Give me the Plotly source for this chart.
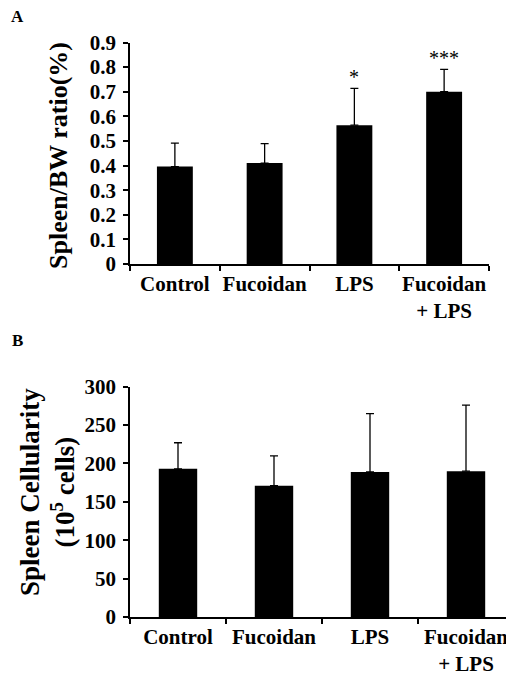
import plotly.graph_objects as go

categories = ["Control", "Fucoidan", "LPS", "Fucoidan<br>+ LPS"]
ratio_values = [0.396, 0.41, 0.564, 0.70]
ratio_errors = [0.095, 0.079, 0.150, 0.091]
ratio_marks = ["", "", "*", "***"]
cell_values = [193, 171, 189, 190]
cell_errors = [34, 39, 76, 86]
ratio_ticks = [0, 0.1, 0.2, 0.3, 0.4, 0.5, 0.6, 0.7, 0.8, 0.9]
cell_ticks = [0, 50, 100, 150, 200, 250, 300]

W, H = 514, 673
OFF = 8  # page body margin offset
FONT = "Liberation Serif"

fig = go.Figure()

fig.add_trace(go.Bar(
    x=categories, y=ratio_values, xaxis="x", yaxis="y",
    marker=dict(color="black", line=dict(width=0)),
    error_y=dict(type="data", symmetric=False, array=ratio_errors,
                 arrayminus=[0] * len(ratio_errors),
                 color="black", thickness=1.3, width=4),
    showlegend=False,
))
fig.add_trace(go.Bar(
    x=categories, y=cell_values, xaxis="x2", yaxis="y2",
    marker=dict(color="black", line=dict(width=0)),
    error_y=dict(type="data", symmetric=False, array=cell_errors,
                 arrayminus=[0] * len(cell_errors),
                 color="black", thickness=1.3, width=4),
    showlegend=False,
))

# significance stars above error bars
for c, v, e, m in zip(categories, ratio_values, ratio_errors, ratio_marks):
    if m:
        fig.add_annotation(x=c, y=v + e, xref="x", yref="y", text=m,
                           showarrow=False, yanchor="bottom", yshift=-2,
                           font=dict(family=FONT, size=20, color="black"))

axis_common = dict(
    showline=True, linecolor="black", linewidth=1.5,
    ticks="outside", tickcolor="black", ticklen=5, tickwidth=1.5,
    showgrid=False, zeroline=False, automargin=False,
    tickfont=dict(family=FONT, size=21, color="black", weight="bold"),
)

def px_x(v):
    return (v - OFF) / W

def px_y(v):
    return 1 - (v - OFF) / H

fig.update_layout(
    template="none",
    width=W, height=H, margin=dict(l=0, r=0, t=0, b=0, pad=0),
    paper_bgcolor="white", plot_bgcolor="white",
    bargap=0.6,
    xaxis=dict(domain=[px_x(130), px_x(489)], anchor="y", tickangle=0,
               tickson="boundaries", **axis_common),
    yaxis=dict(domain=[px_y(264), px_y(42.5)], anchor="x",
               range=[0, 0.9], tickvals=ratio_ticks, ticklabelstandoff=3,
               ticktext=[("%g" % t) for t in ratio_ticks], **axis_common),
    xaxis2=dict(domain=[px_x(130), px_x(514)], anchor="y2", tickangle=0,
                tickson="boundaries", **axis_common),
    yaxis2=dict(domain=[px_y(617), px_y(386.7)], anchor="x2",
                range=[0, 300], tickvals=cell_ticks, ticklabelstandoff=3,
                **axis_common),
)

fig.add_annotation(x=px_x(58), y=px_y(156), xref="paper", yref="paper",
                   text="<b>Spleen/BW ratio(%)</b>", textangle=-90,
                   showarrow=False, xanchor="center", yanchor="middle",
                   font=dict(family=FONT, size=26, color="black"))
fig.add_annotation(x=px_x(47), y=px_y(492), xref="paper", yref="paper",
                   text="<b>Spleen Cellularity<br>(10<sup>5</sup> cells)</b>",
                   textangle=-90, showarrow=False,
                   xanchor="center", yanchor="middle",
                   font=dict(family=FONT, size=27, color="black"))
fig.add_annotation(x=px_x(17), y=px_y(17), xref="paper", yref="paper",
                   text="<b>A</b>", showarrow=False,
                   xanchor="center", yanchor="middle",
                   font=dict(family=FONT, size=17, color="black"))
fig.add_annotation(x=px_x(17), y=px_y(340), xref="paper", yref="paper",
                   text="<b>B</b>", showarrow=False,
                   xanchor="center", yanchor="middle",
                   font=dict(family=FONT, size=17, color="black"))

fig.write_html("out.html")
